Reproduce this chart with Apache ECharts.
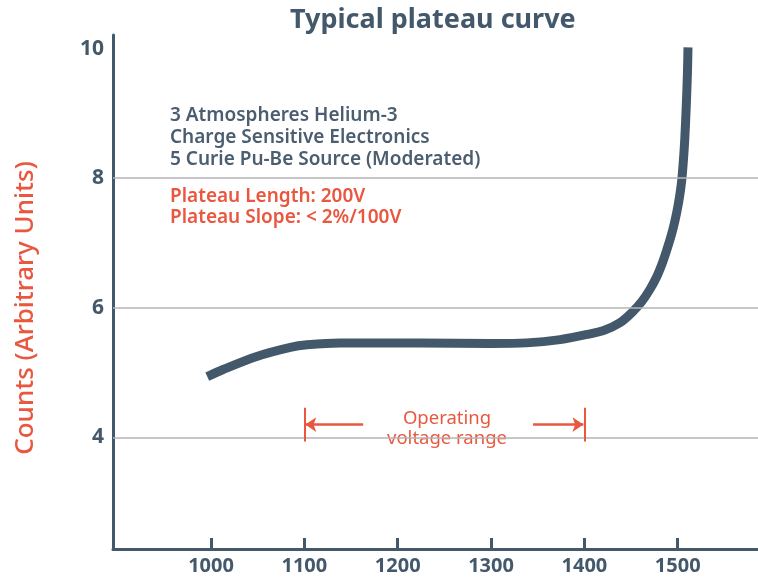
<!DOCTYPE html>
<html>
<head>
<meta charset="utf-8" />
<script src="https://cdn.jsdelivr.net/npm/echarts@6.0.0/dist/echarts.min.js"></script>
<title>Typical plateau curve</title>
<style>html,body{margin:0;padding:0;background:#fff;}</style>
</head>
<body>
<div id="main" style="width:758px;height:578px;"></div>
<script type="text/javascript">
// curve
var voltage = [996, 1013, 1049, 1085, 1103, 1138, 1224, 1300, 1338, 1374, 1403, 1422, 1438, 1451, 1461.5, 1470, 1477.5, 1484, 1489.3, 1494.6, 1498.9, 1502.1, 1504.3, 1506.1, 1507.5, 1509.1, 1510.4, 1511];
var counts  = [4.94, 5.05, 5.25, 5.39, 5.43, 5.46, 5.46, 5.45, 5.46, 5.51, 5.59, 5.66, 5.77, 5.93, 6.10, 6.28, 6.48, 6.71, 6.94, 7.20, 7.47, 7.73, 7.97, 8.28, 8.59, 9.10, 9.62, 10.02];
var xTicks = [1000, 1100, 1200, 1300, 1400, 1500];
var yTicks = [4, 6, 8, 10];
var gridValues = [4, 6, 8];
var rangeStart = 1100, rangeEnd = 1400;
var arrowY = 4.2, tickLow = 3.94, tickHigh = 4.46;

var slate = '#43596b', red = '#e9573f';
var font = '"Noto Sans", sans-serif';

var curve = [];
for (var i = 0; i < voltage.length; i++) curve.push([voltage[i], counts[i]]);

var myChart = echarts.init(document.getElementById('main'));
var option = {
    animation: false,
    title: {
        text: 'Typical plateau curve',
        left: 285, top: 2,
        textStyle: {fontFamily: font, fontSize: 27, fontWeight: 'bold', color: slate}
    },
    grid: {left: 113, right: 0, top: 35, bottom: 29},
    xAxis: {
        type: 'value', min: 895, max: 1586,
        axisLine: {lineStyle: {color: slate, width: 3}},
        axisTick: {show: true, inside: true, length: 11, customValues: xTicks, lineStyle: {color: slate, width: 3}},
        axisLabel: {customValues: xTicks, margin: 7, fontFamily: font, fontSize: 20, fontWeight: 'bold', color: slate,
            formatter: function (v) { return String(v); }},
        splitLine: {show: false}
    },
    yAxis: {
        type: 'value', min: 2.28, max: 10.21,
        axisLine: {show: true, lineStyle: {color: slate, width: 3}},
        axisTick: {show: false},
        axisLabel: {customValues: yTicks, margin: 9, fontFamily: font, fontSize: 21, fontWeight: 'bold', color: slate},
        splitLine: {show: false}
    },
    graphic: [
        {type: 'text', x: 170, y: 105, style: {text: '3 Atmospheres Helium-3\nCharge Sensitive Electronics\n5 Curie Pu-Be Source (Moderated)',
            font: '600 19px ' + font, fill: '#4a5e70', lineHeight: 22}},
        {type: 'text', x: 170, y: 186, style: {text: 'Plateau Length: 200V\nPlateau Slope: < 2%/100V',
            font: '600 19px ' + font, fill: red, lineHeight: 21}},
        {type: 'text', x: 447, y: 429, style: {text: 'Operating\nvoltage range', align: 'center', verticalAlign: 'middle',
            font: '18.5px ' + font, fill: red, lineHeight: 20}},
        {type: 'text', x: 26, y: 308, rotation: Math.PI / 2, style: {text: 'Counts (Arbitrary Units)', align: 'center', verticalAlign: 'middle',
            font: '500 26px ' + font, fill: red}}
    ],
    series: [
        {
            type: 'line', data: [], z: 1, silent: true,
            markLine: {
                silent: true, symbol: 'none', label: {show: false},
                lineStyle: {color: '#b5b5b5', width: 1.5, type: 'solid'},
                data: gridValues.map(function (v) { return {yAxis: v}; })
            }
        },
        {
            type: 'line', data: [], z: 2, silent: true,
            markLine: {
                silent: true, symbol: 'none', label: {show: false},
                lineStyle: {color: red, width: 2, type: 'solid'},
                data: [
                    [{coord: [rangeStart, tickLow]}, {coord: [rangeStart, tickHigh]}],
                    [{coord: [rangeEnd, tickLow]}, {coord: [rangeEnd, tickHigh]}]
                ]
            }
        },
        {
            type: 'line', data: [], z: 2, silent: true,
            markLine: {
                silent: true, symbol: ['none', 'arrow'], symbolSize: 11, label: {show: false},
                lineStyle: {color: red, width: 2.5, type: 'solid'},
                data: [
                    [{coord: [1163, arrowY]}, {coord: [rangeStart + 1, arrowY]}],
                    [{coord: [1345, arrowY]}, {coord: [rangeEnd - 1, arrowY]}]
                ]
            }
        },
        {
            type: 'line', data: curve, z: 3,
            smooth: 0.3,
            showSymbol: false, symbol: 'none',
            lineStyle: {color: slate, width: 9, cap: 'butt', join: 'round'}
        }
    ]
};
myChart.setOption(option);
</script>
</body>
</html>
